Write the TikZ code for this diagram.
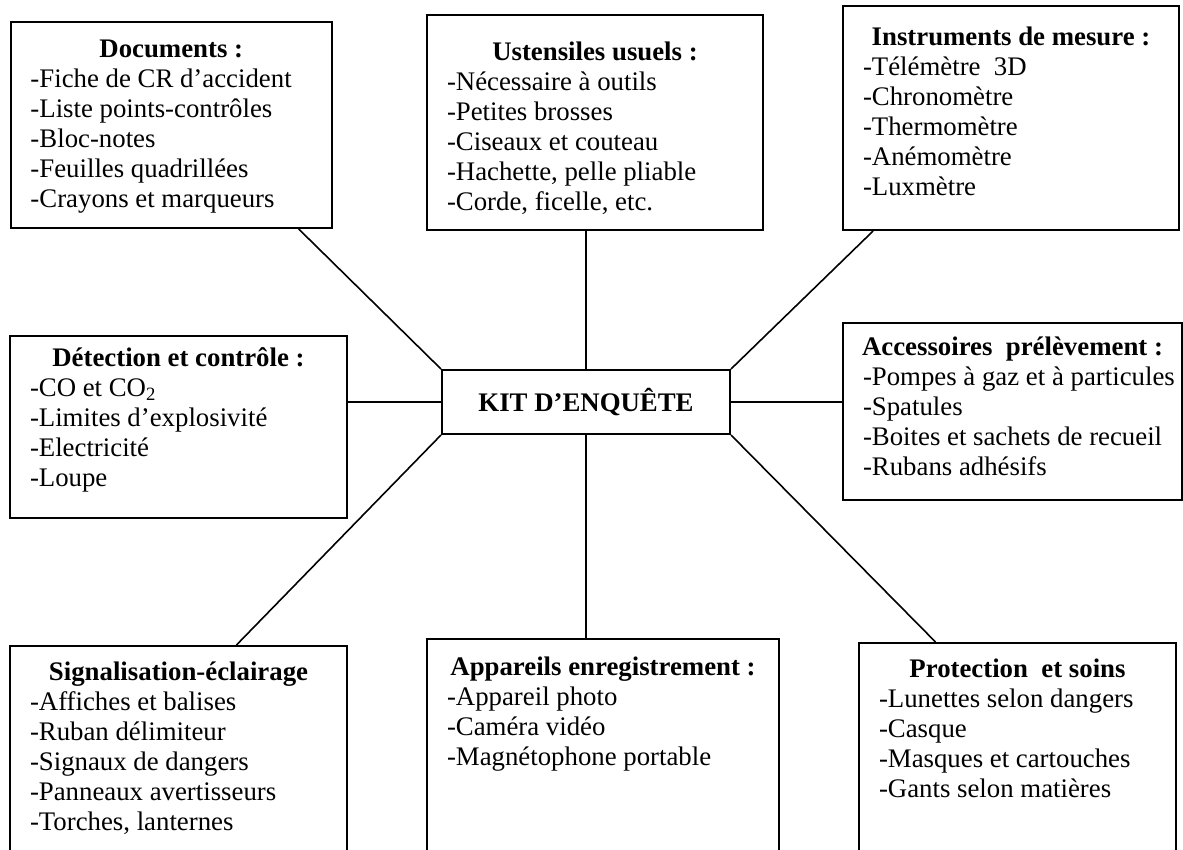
\documentclass[tikz,border=0pt]{standalone}
\usepackage{fontspec}
\setmainfont{Liberation Serif}
\usepackage{tikz}
\usetikzlibrary{calc,positioning}

% width, height, first baseline, title, items
\newcommand{\kitlist}[5]{%
  \parbox[c][#2][t]{#1}{\centering\rule{0pt}{#3}\textbf{#4}\par
    \raggedright\leftskip=10pt #5\par}}

\begin{document}
\begin{tikzpicture}[x=0.5pt,y=-0.5pt,thick,
    list node/.style={draw,line width=1pt,anchor=north west,inner sep=0pt,
      font=\fontsize{13.4}{15}\selectfont},
    kit node/.style={draw,line width=1pt,inner sep=0pt,minimum width=144pt,
      minimum height=32pt,font=\fontsize{13.4}{15}\selectfont\bfseries}]

  \useasboundingbox (0,0) rectangle (1183,850);
  \clip (0,0) rectangle (1183,850);

  \node[kit node] (kit) at (586,402) {KIT D’ENQUÊTE};

  \node[list node] (doc) at (9.5,21) {\kitlist{160.75pt}{103pt}{18pt}{Documents :}%
    {-Fiche de CR d’accident\\-Liste points-contrôles\\-Bloc-notes\\-Feuilles quadrillées\\-Crayons et marqueurs}};
  \node[list node] (ust) at (426,14) {\kitlist{168pt}{107.5pt}{23pt}{Ustensiles usuels :}%
    {-Nécessaire à outils\\-Petites brosses\\-Ciseaux et couteau\\-Hachette, pelle pliable\\-Corde, ficelle, etc.}};
  \node[list node] (inst) at (842,5) {\kitlist{168pt}{112pt}{20pt}{Instruments de mesure :}%
    {-Télémètre\ \ 3D\\-Chronomètre\\-Thermomètre\\-Anémomètre\\-Luxmètre}};
  \node[list node] (det) at (9,335) {\kitlist{168.5pt}{91pt}{15pt}{Détection et contrôle :}%
    {-CO et CO\textsubscript{2}\\-Limites d’explosivité\\-Electricité\\-Loupe}};
  \node[list node] (acc) at (842,322) {\kitlist{169.5pt}{88.5pt}{16pt}{Accessoires\ \ prélèvement :}%
    {-Pompes à gaz et à particules\\-Spatules\\-Boites et sachets de recueil\\-Rubans adhésifs}};
  \node[list node] (sig) at (9,645) {\kitlist{168.5pt}{107.5pt}{17pt}{Signalisation-éclairage}%
    {-Affiches et balises\\-Ruban délimiteur\\-Signaux de dangers\\-Panneaux avertisseurs\\-Torches, lanternes}};
  \node[list node] (app) at (426,638) {\kitlist{176pt}{111pt}{18pt}{Appareils enregistrement :}%
    {-Appareil photo\\-Caméra vidéo\\-Magnétophone portable}};
  \node[list node] (pro) at (858,642) {\kitlist{158.5pt}{109pt}{17pt}{Protection\ \ et soins}%
    {-Lunettes selon dangers\\-Casque\\-Masques et cartouches\\-Gants selon matières}};

  \path
    (kit.north west) edge ($(doc.south west)!0.894!(doc.south east)$)
    (kit.north) edge (kit.north |- ust.south)
    (kit.north east) edge ($(inst.south west)!0.092!(inst.south east)$)
    (kit.west) edge (kit.west -| det.east)
    (kit.east) edge (kit.east -| acc.west)
    (kit.south west) edge ($(sig.north west)!0.671!(sig.north east)$)
    (kit.south) edge (kit.south |- app.north)
    (kit.south east) edge ($(pro.north west)!0.243!(pro.north east)$);

\end{tikzpicture}
\end{document}
